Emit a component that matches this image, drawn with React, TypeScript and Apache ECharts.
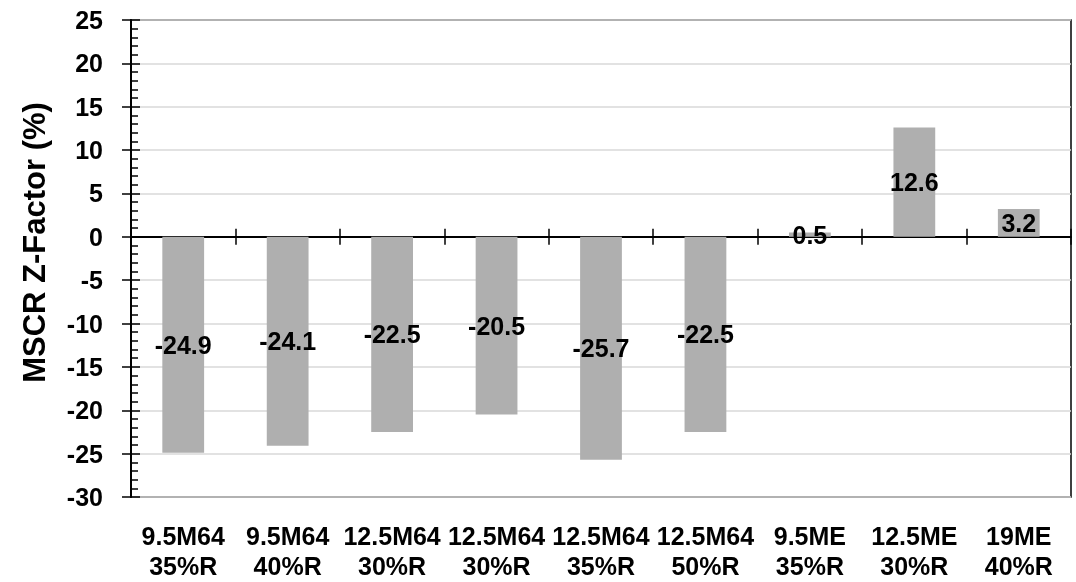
import React, { useEffect, useRef } from "react";
import * as echarts from "echarts";

const categories = [
  "9.5M64\n35%R",
  "9.5M64\n40%R",
  "12.5M64\n30%R",
  "12.5M64\n30%R",
  "12.5M64\n35%R",
  "12.5M64\n50%R",
  "9.5ME\n35%R",
  "12.5ME\n30%R",
  "19ME\n40%R",
];
const values = [-24.9, -24.1, -22.5, -20.5, -25.7, -22.5, 0.5, 12.6, 3.2];
const yMin = -30;
const yMax = 25;
const yInterval = 5;
const yTitle = "MSCR Z-Factor (%)";

const FONT = "'Liberation Sans', Arial, sans-serif";

export default function App() {
  const ref = useRef<HTMLDivElement>(null);
  useEffect(() => {
    if (!ref.current) return;
    const chart = echarts.init(ref.current, undefined, { renderer: "svg" });
    const valueAxisBase = {
      type: "value" as const,
      min: yMin,
      max: yMax,
      interval: yInterval,
      position: "left" as const,
    };
    chart.setOption({
      animation: false,
      grid: {
        left: 131,
        right: 5,
        top: 20,
        bottom: 85,
        containLabel: false,
        outerBoundsMode: "none",
        show: true,
        borderColor: "#000",
        borderWidth: 1.5,
        backgroundColor: "transparent",
      },
      xAxis: [
        {
          type: "category",
          data: categories,
          position: "bottom",
          axisLine: { show: false, onZero: false },
          axisTick: { show: false },
          splitLine: { show: false },
          axisLabel: {
            interval: 0,
            margin: 24,
            fontFamily: FONT,
            fontSize: 25,
            fontWeight: "bold",
            color: "#000",
            lineHeight: 30,
          },
        },
        {
          type: "category",
          data: categories,
          position: "top",
          axisLine: { show: true, onZero: true, lineStyle: { color: "#000", width: 2 } },
          axisTick: { show: true, length: 8, lineStyle: { color: "#000", width: 1.5 } },
          axisLabel: { show: false },
          splitLine: { show: false },
        },
        {
          type: "category",
          data: categories,
          position: "bottom",
          axisLine: { show: false, onZero: true },
          axisTick: { show: true, length: 8, lineStyle: { color: "#000", width: 1.5 } },
          axisLabel: { show: false },
          splitLine: { show: false },
        },
      ],
      yAxis: [
        {
          ...valueAxisBase,
          name: yTitle,
          nameLocation: "middle",
          nameGap: 81,
          nameTextStyle: {
            fontFamily: FONT,
            fontSize: 31,
            fontWeight: "bold",
            color: "#000",
            padding: [0, 0, 0, 32],
          },
          axisLine: { show: true, onZero: false, lineStyle: { color: "#000", width: 2 } },
          axisTick: { show: true, length: 9, lineStyle: { color: "#000", width: 1.5 } },
          axisLabel: {
            margin: 28,
            fontFamily: FONT,
            fontSize: 25,
            fontWeight: "bold",
            color: "#000",
          },
          splitLine: { show: true, lineStyle: { color: "#d9d9d9", width: 1.5 } },
        },
        {
          ...valueAxisBase,
          axisLine: { show: false, onZero: false },
          axisTick: { show: true, inside: true, length: 9, lineStyle: { color: "#000", width: 1.5 } },
          minorTick: { show: true, splitNumber: 5, length: 7, lineStyle: { color: "#000", width: 1.5 } },
          axisLabel: { show: false },
          splitLine: { show: false },
        },
      ],
      series: [
        {
          type: "bar",
          data: values,
          xAxisIndex: 0,
          yAxisIndex: 0,
          barWidth: "40%",
          itemStyle: { color: "#afafaf" },
          label: {
            show: true,
            position: "inside",
            fontFamily: FONT,
            fontSize: 25,
            fontWeight: "bold",
            color: "#000",
          },
        },
      ],
    });
    return () => chart.dispose();
  }, []);
  return (
    <div
      ref={ref}
      style={{ position: "fixed", left: 0, top: 0, width: 1076, height: 582 }}
    />
  );
}
